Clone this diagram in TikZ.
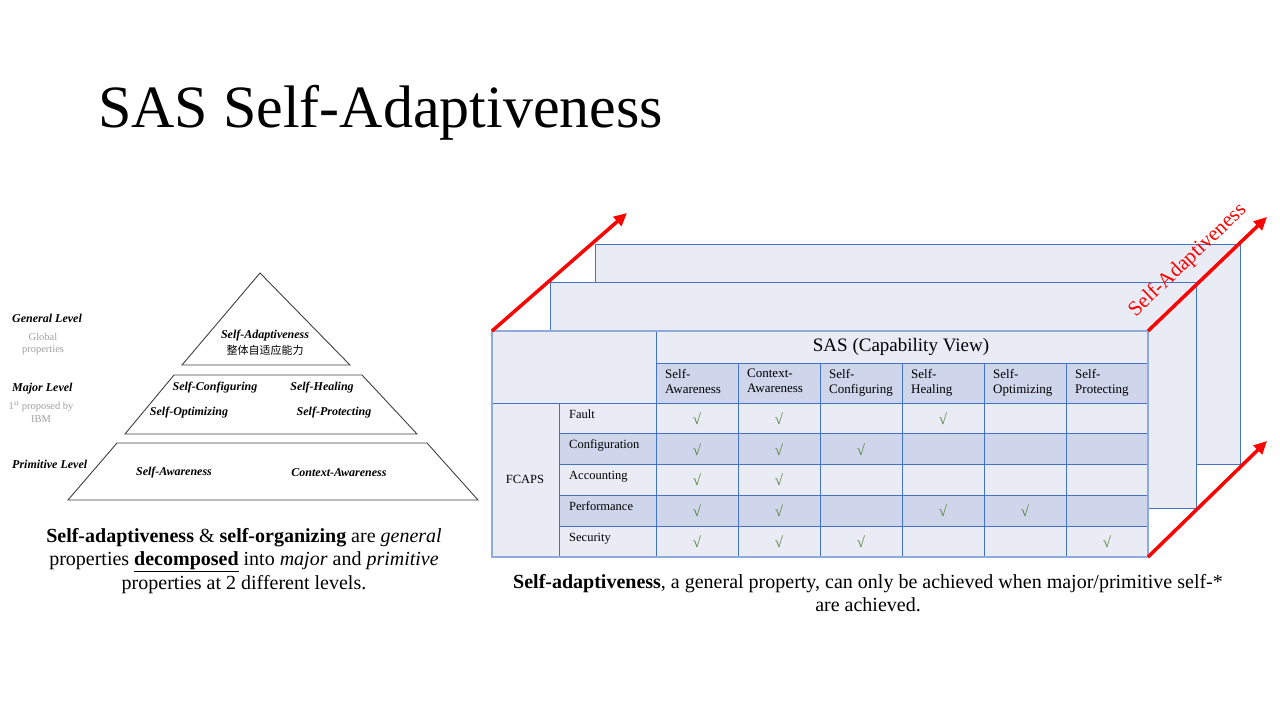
\documentclass[tikz,border=0pt]{standalone}
\usepackage{fontspec}
\setmainfont{Liberation Serif}
\newfontfamily\cjkfont{Noto Sans CJK SC}
\usetikzlibrary{arrows.meta}
\definecolor{gridblue}{HTML}{4472C4}
\definecolor{edgeblue}{HTML}{8FAADC}
\definecolor{lightrow}{HTML}{E9EBF5}
\definecolor{darkrow}{HTML}{CFD5EA}
\definecolor{checkgreen}{HTML}{548235}
\definecolor{notegray}{HTML}{A0A0A0}
\definecolor{pyrline}{HTML}{404040}
\newcommand{\fs}[2]{\fontsize{#1}{#2}\selectfont}
\begin{document}
\begin{tikzpicture}[x=1pt,y=-1pt,
  pyrshape/.style={draw=pyrline,line width=0.9pt},
  pyrtext/.style={font=\fs{12}{14}\bfseries\itshape,inner sep=0pt},
  leveltext/.style={font=\fs{12}{14}\bfseries\itshape,inner sep=0pt,anchor=base west},
  notetext/.style={font=\fs{10.5}{12.5},text=notegray,inner sep=0pt,align=center},
  layerbox/.style={draw=gridblue,fill=lightrow,line width=0.8pt},
  gridline/.style={draw=gridblue,line width=0.8pt},
  cellhead/.style={font=\fs{13}{15},align=left,anchor=north west,inner sep=0pt},
  rowlabel/.style={font=\fs{12.5}{14},anchor=base west,inner sep=0pt},
  chk/.style={font=\fs{15}{16},text=checkgreen,inner sep=0pt},
  redarrow/.style={draw=red,line width=3.5pt,-{Triangle[length=13pt,width=12pt]}},
  caption/.style={font=\fs{20}{23.5},align=center,inner sep=0pt}]
\useasboundingbox (0,0) rectangle (1280,720);

% title
\node[anchor=base west,font=\fs{60}{66},inner sep=0pt] (title) at (98,127) {SAS Self-Adaptiveness};

% pyramid
\draw[pyrshape] (260,273) -- (350,365) -- (182,365) -- cycle;
\draw[pyrshape] (174,375) -- (362,375) -- (417,434) -- (125,434) -- cycle;
\draw[pyrshape] (117,443) -- (427,443) -- (478,500) -- (68,500) -- cycle;
\node[pyrtext] (pa) at (265,336) {Self-Adaptiveness};
\node[inner sep=0pt,font=\cjkfont\fs{11}{12}] (pacn) at (265,350) {整体自适应能力};
\node[pyrtext] (pcfg) at (215,388) {Self-Configuring};
\node[pyrtext] (pheal) at (322,388) {Self-Healing};
\node[pyrtext] (popt) at (189,413) {Self-Optimizing};
\node[pyrtext] (pprot) at (334,413) {Self-Protecting};
\node[pyrtext] (pself) at (174,473) {Self-Awareness};
\node[pyrtext] (pctx) at (339,473) {Context-Awareness};

% level names
\node[leveltext] (lgen) at (12,322) {General Level};
\node[notetext] (lgennote) at (43,344) {Global\\properties};
\node[leveltext] (lmaj) at (12,391) {Major Level};
\node[notetext] (lmajnote) at (41,412) {1\textsuperscript{st} proposed by\\IBM};
\node[leveltext] (lprim) at (12,468) {Primitive Level};

% stacked capability layers behind the table
\draw[layerbox] (595,244) rectangle (1240,464);
\draw[layerbox] (550,282) rectangle (1196,508);

% table fills
\fill[lightrow] (492,331) rectangle (1148,557);
\fill[darkrow] (656,363) rectangle (1148,403);
\fill[darkrow] (559,433.8) rectangle (1148,464.6);
\fill[darkrow] (559,495.4) rectangle (1148,526.2);

% table grid
\draw[gridline] (656,363) -- (1148,363);
\draw[gridline] (492,403) -- (1148,403);
\foreach \yy in {433.8,464.6,495.4,526.2}
  \draw[gridline] (559,\yy) -- (1148,\yy);
\draw[gridline] (656,331) -- (656,557);
\draw[gridline] (559,403) -- (559,557);
\foreach \xx in {738,820,902,984,1066}
  \draw[gridline] (\xx,363) -- (\xx,557);
\draw[draw=edgeblue,line width=1.4pt] (492,331) rectangle (1148,557);

% table texts
\node[font=\fs{19}{21},inner sep=0pt] (sas) at (901,347) {SAS (Capability View)};
\foreach \i/\a/\b in {1/Self-/Awareness,2/Context-/Awareness,3/Self-/Configuring,4/Self-/Healing,5/Self-/Optimizing,6/Self-/Protecting}
  \node[cellhead] (hd-\i) at ({656+82*(\i-1)+9},369) {\a\\\b};
\node[font=\fs{12.5}{14},inner sep=0pt] (fcaps) at (525,479) {FCAPS};
\foreach \r/\t in {1/Fault,2/Configuration,3/Accounting,4/Performance,5/Security}
  \node[rowlabel] (row-\r) at (569,{403+30.8*(\r-1)+15}) {\t};
\foreach \r/\c in {1/1,1/2,1/4,2/1,2/2,2/3,3/1,3/2,4/1,4/2,4/4,4/5,5/1,5/2,5/3,5/6}
  \node[chk] (chk-\r-\c) at ({656+82*(\c-0.5)},{403+30.8*(\r-0.5)}) {√};

% red arrows
\coordinate (a1s) at (492,331);
\coordinate (a1e) at (627,213);
\coordinate (a2s) at (1148,331);
\coordinate (a2e) at (1267,217);
\coordinate (a3s) at (1148,557);
\coordinate (a3e) at (1267,441);
\draw[redarrow] (a1s) -- (a1e);
\draw[redarrow] (a2s) -- node[sloped,above=12pt,pos=0.47,font=\fs{21}{23},text=red,inner sep=0pt] (adlabel) {Self-Adaptiveness} (a2e);
\draw[redarrow] (a3s) -- (a3e);

% captions
\node[caption] (capl) at (244,561) {\textbf{Self-adaptiveness} \& \textbf{self-organizing} are \textit{general}\\
  properties \underline{\textbf{decomposed}} into \textit{major} and \textit{primitive}\\
  properties at 2 different levels.};
\node[caption] (capr) at (868,593) {\textbf{Self-adaptiveness}, a general property, can only be achieved when major/primitive self-*\\
  are achieved.};
\end{tikzpicture}
\end{document}
